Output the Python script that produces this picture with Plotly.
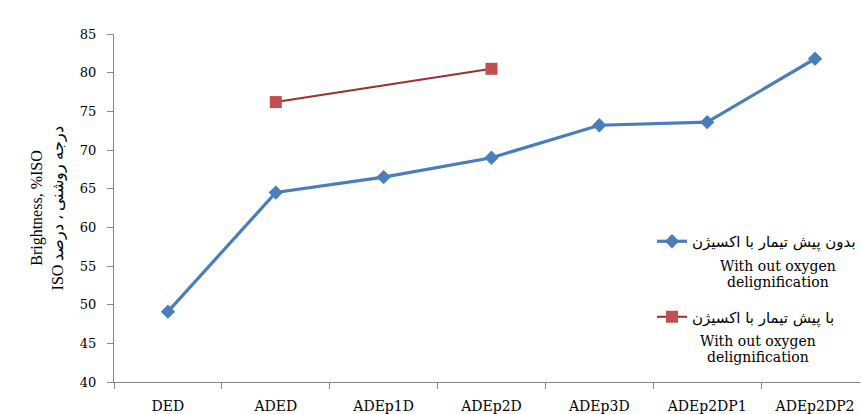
import plotly.graph_objects as go

categories = ["DED", "ADED", "ADEp1D", "ADEp2D", "ADEp3D", "ADEp2DP1", "ADEp2DP2"]
without_oxygen = [49.1, 64.5, 66.5, 69.0, 73.2, 73.6, 81.8]
with_oxygen = [None, 76.2, None, 80.5, None, None, None]

series_names = ["بدون پیش تیمار با اکسیژن", "با پیش تیمار با اکسیژن"]
series_sub = [["With out oxygen", "delignification"], ["With out oxygen", "delignification"]]
y_title = "Brightness, %ISO<br>ISO درجه روشنی ، درصد"

serif = "Liberation Serif"
wide_serif = "DejaVu Serif"
axis_gray = "#868686"

fig = go.Figure()
fig.add_trace(go.Scatter(
    x=categories, y=without_oxygen, name=series_names[0], mode="lines+markers",
    line=dict(color="#4A7EBB", width=3.2),
    marker=dict(symbol="diamond", size=11, color="#4A7EBB"),
    legendgroup="a",
))
fig.add_trace(go.Scatter(
    x=categories, y=with_oxygen, name=series_names[1], mode="lines+markers",
    connectgaps=True,
    line=dict(color="#9E2F2C", width=2),
    marker=dict(symbol="square", size=12, color="#C0504D"),
    legendgroup="b",
))

annots = []
sub_pos = [(0.890, [266, 282]), (0.8635, [341, 357])]
for (xc, ys), lines in zip(sub_pos, series_sub):
    for yy, txt in zip(ys, lines):
        annots.append(dict(
            x=xc, y=(382 - yy) / 348, xref="paper", yref="paper",
            text=txt, showarrow=False, xanchor="center", yanchor="middle",
            font=dict(family=wide_serif, size=14, color="#000000"),
        ))

fig.update_layout(
    width=861, height=414,
    margin=dict(l=114, r=0, t=34, b=32),
    plot_bgcolor="white", paper_bgcolor="white",
    showlegend=True,
    legend=dict(
        x=0.7216, y=0.4511, xanchor="left", yanchor="top",
        font=dict(family="DejaVu Sans", size=15, color="#000000"),
        tracegroupgap=53, bgcolor="rgba(0,0,0,0)", itemwidth=30,
    ),
    annotations=annots,
    xaxis=dict(
        type="category", range=[-0.5, 6.417],
        showline=True, linecolor=axis_gray, linewidth=1,
        ticks="outside", ticklen=6, tickcolor=axis_gray, tickson="boundaries",
        showgrid=False, zeroline=False,
        tickfont=dict(family=wide_serif, size=14, color="#000000"),
        ticklabelstandoff=11,
    ),
    yaxis=dict(
        range=[40, 85], dtick=5, tick0=40,
        showline=True, linecolor=axis_gray, linewidth=1,
        ticks="outside", ticklen=6, tickcolor=axis_gray,
        showgrid=False, zeroline=False,
        tickfont=dict(family=wide_serif, size=13, color="#000000"),
        ticklabelstandoff=8,
        title=dict(text=y_title, font=dict(family=serif, size=16, color="#000000"), standoff=12),
    ),
)

fig.write_html(
    "out.html",
    config={"displayModeBar": False},
    post_script="document.body.style.margin='0';document.body.style.overflow='hidden';",
)
